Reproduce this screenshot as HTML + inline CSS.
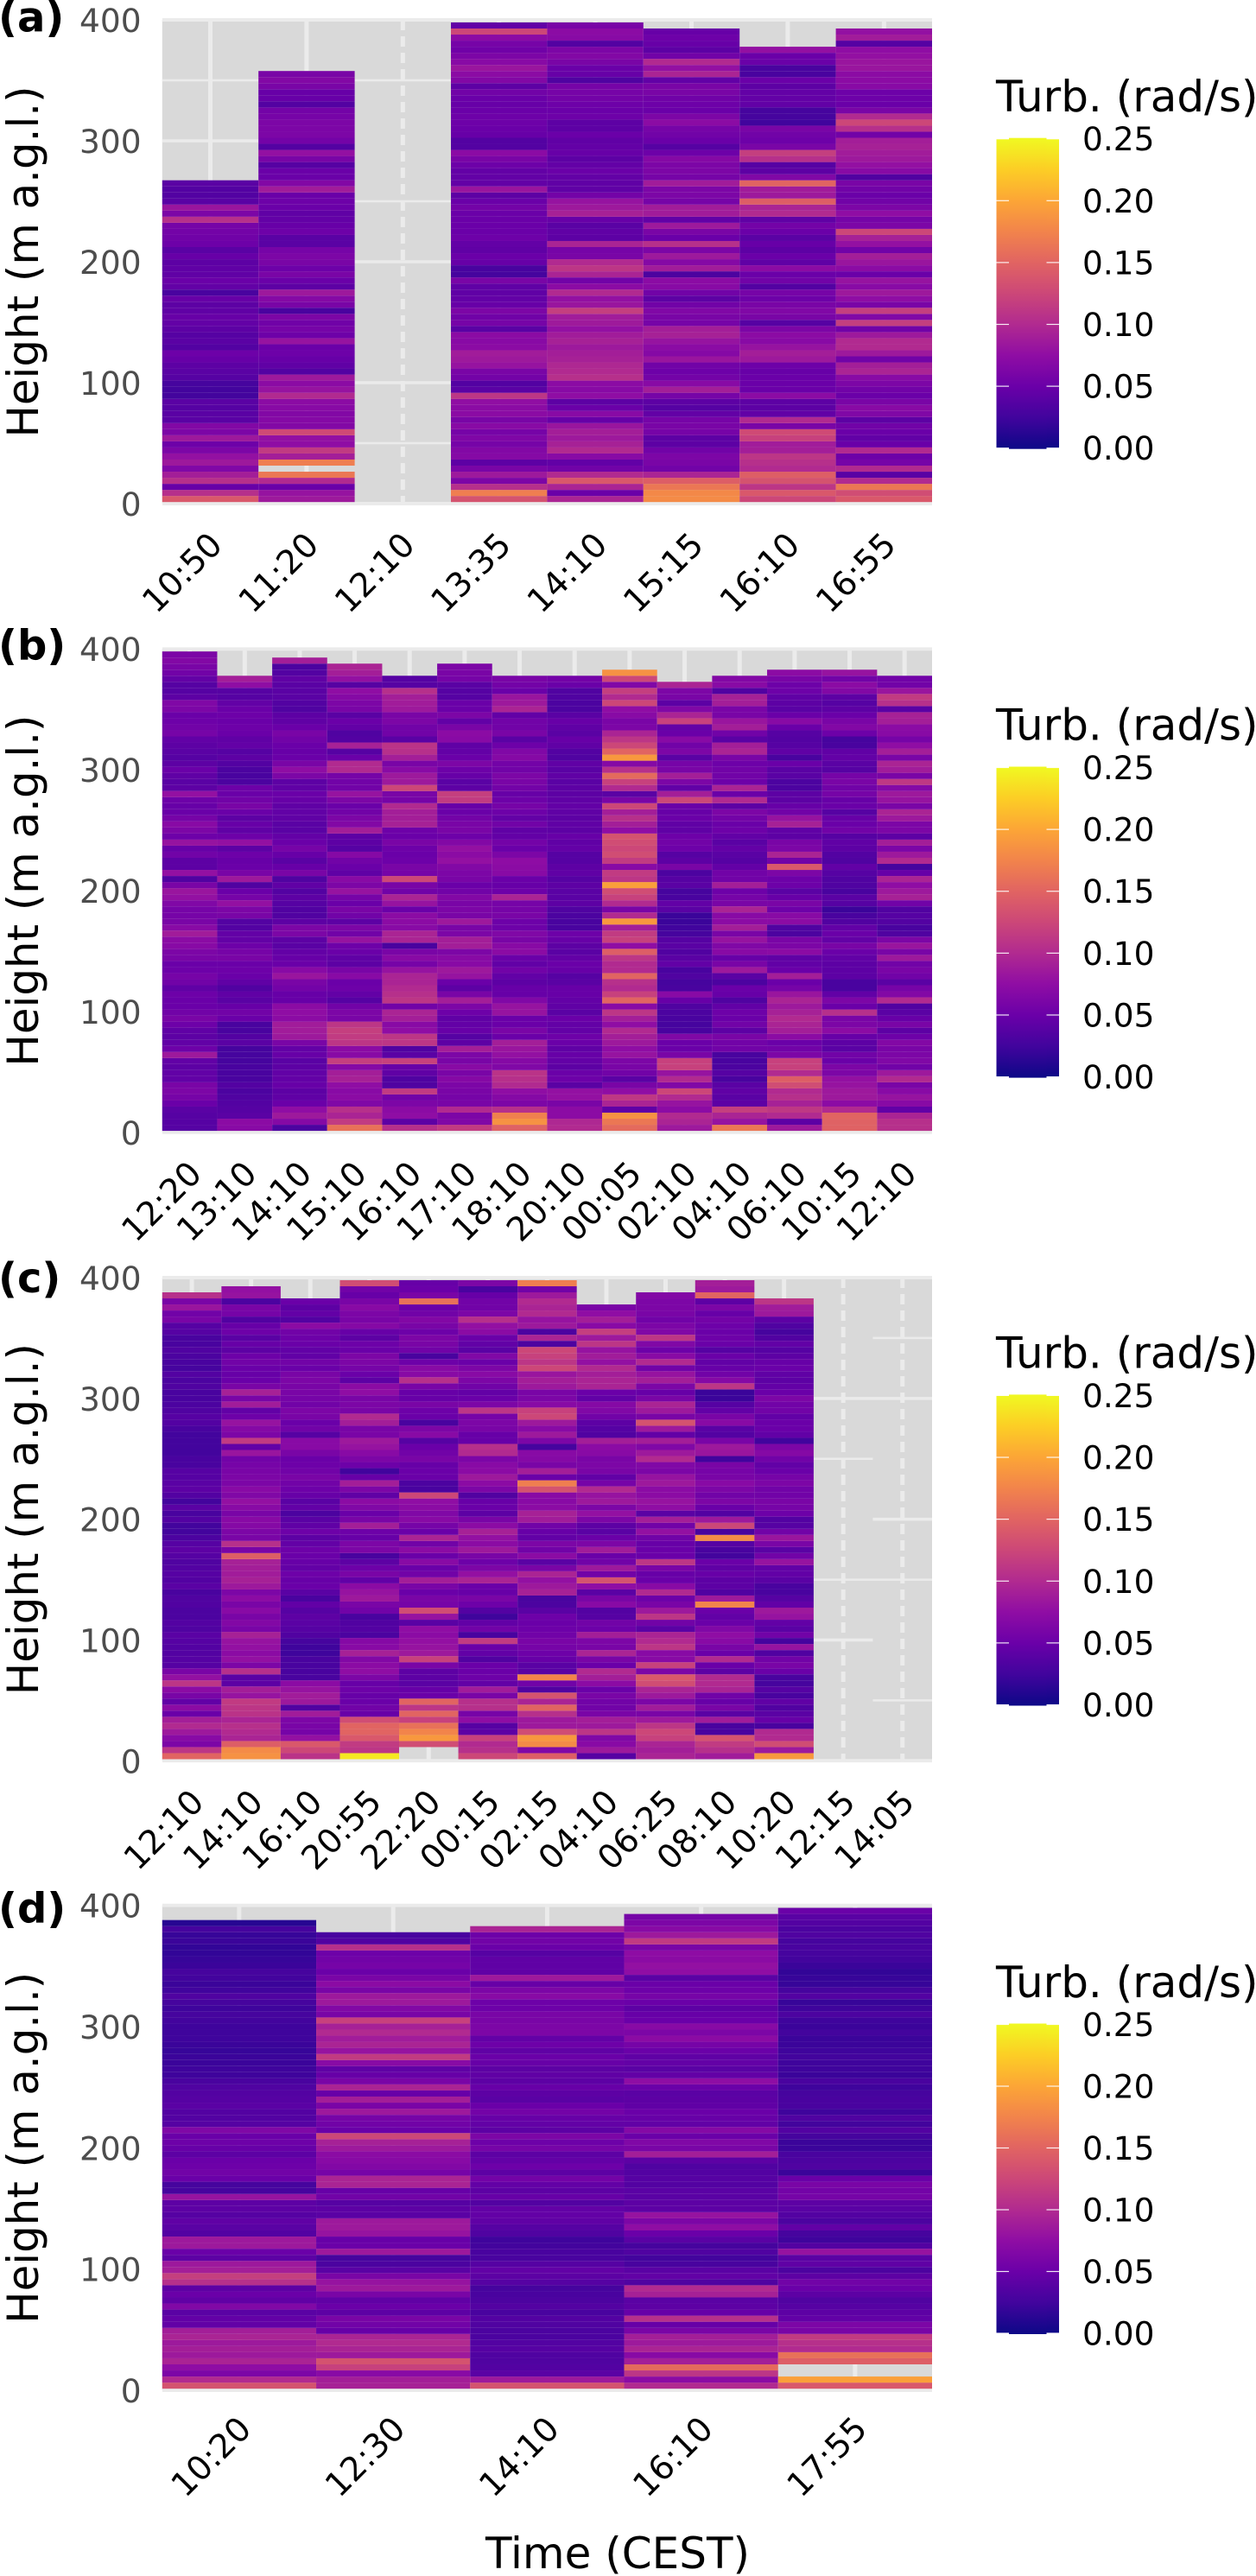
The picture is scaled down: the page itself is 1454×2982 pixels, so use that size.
<!DOCTYPE html>
<html lang="en">
<head>
<meta charset="utf-8">
<title>Turbulence profiles</title>
<style>
html,body{margin:0;padding:0;background:#fff;}
svg{display:block;}
text{font-family:"DejaVu Sans","Liberation Sans",sans-serif;}
</style>
</head>
<body>
<svg id="chart" xmlns="http://www.w3.org/2000/svg" width="1454" height="2982" viewBox="0 0 1454 2982"></svg>
<script>
// Turbulence in thousandths of rad/s, one array per profile, listed bottom row to top row. null = no data.
const timesA = ["10:50","11:20","12:10","13:35","14:10","15:15","16:10","16:55"];
const a1050 = [140,105,48,105,90,65,85,78,62,52,85,62,66,40,40,38,40,26,26,28,38,40,42,48,52,36,40,38,42,46,48,44,42,48,30,46,50,44,44,42,48,40,52,54,56,58,105,62,82,40,36,36,40];
const a1120 = [85,80,50,100,165,null,170,90,115,75,78,128,66,68,66,70,72,100,80,72,85,36,44,48,52,50,80,52,58,54,62,30,60,68,85,42,50,60,52,60,62,58,40,40,52,48,46,44,50,52,50,88,66,50,50,38,60,78,36,56,62,62,62,58,56,36,48,48,60,66,60];
const a1210 = [];
const a1335 = [135,170,105,62,85,60,42,68,66,58,64,58,70,60,72,72,76,110,40,36,56,60,80,85,88,72,70,72,40,58,54,62,48,46,44,44,60,28,30,48,50,44,46,52,50,50,50,50,56,50,42,82,46,46,46,52,60,72,36,36,48,50,52,52,50,48,50,55,42,66,72,82,70,62,54,58,72,125,45];
const a1410 = [95,50,95,140,100,55,45,70,100,92,85,90,82,48,70,50,42,75,70,72,105,100,98,92,90,85,92,88,78,86,88,118,82,78,100,72,55,95,110,100,60,58,95,42,44,40,48,92,85,80,56,44,44,46,50,46,42,48,46,44,50,42,42,52,50,52,56,58,58,34,48,50,60,66,62,36,70,72,60];
const a1515 = [180,178,165,145,95,55,60,62,55,42,42,58,60,58,46,38,42,58,90,70,56,52,55,82,68,72,80,92,90,58,60,65,55,42,55,70,72,32,88,68,85,62,105,50,60,85,45,88,88,58,62,62,88,58,62,62,68,52,38,50,55,58,72,62,50,52,54,60,60,45,95,78,100,55,42,48,52,48];
const a1610 = [125,140,110,135,145,100,105,110,90,88,120,128,60,100,45,42,42,72,50,50,50,48,52,85,90,80,70,72,62,38,60,65,60,52,58,36,55,50,72,44,50,42,48,40,50,56,44,100,95,145,85,88,150,65,42,38,105,118,60,52,55,60,25,28,28,45,46,46,42,50,30,30,50,50,78];
const a1655 = [140,130,165,100,40,100,58,52,100,50,45,50,55,42,65,70,60,50,55,62,70,95,90,55,85,100,100,85,55,118,65,118,60,75,85,70,80,50,72,82,90,55,78,92,125,62,58,75,62,55,50,55,60,35,70,78,85,88,92,90,55,105,125,100,60,50,52,52,70,72,72,82,82,78,75,38,88,78];

const timesB = ["12:20","13:10","14:10","15:10","16:10","17:10","18:10","20:10","00:05","02:10","04:10","06:10","10:15","12:10"];
const b1220 = [38,38,38,40,50,58,62,60,45,45,42,45,85,52,45,42,44,52,60,55,50,50,52,44,55,58,52,50,60,62,70,72,88,70,60,58,58,65,78,82,60,35,78,42,42,55,48,80,52,62,70,58,50,48,52,78,42,40,44,50,42,38,40,42,45,58,55,52,50,62,65,42,38,38,46,55,60,66,62];
const b1310 = [70,72,40,38,36,34,32,36,30,30,30,28,28,28,40,36,30,30,50,55,48,40,44,35,44,50,52,50,60,58,52,46,46,36,36,60,62,78,58,50,34,85,60,50,48,52,42,78,52,44,48,42,50,60,55,50,52,32,30,32,36,42,38,46,44,50,52,50,52,50,46,38,38,75,90];
const b1410 = [32,68,85,75,50,44,42,48,46,45,42,40,48,46,60,85,88,88,72,75,72,48,48,56,60,82,70,50,48,46,40,42,62,62,42,35,35,38,42,36,44,34,60,48,40,48,58,50,46,40,40,44,45,44,48,50,44,42,62,75,60,50,48,50,55,60,50,44,42,34,36,40,40,40,44,36,32,90];
const b1510 = [160,115,95,105,65,72,70,75,92,90,68,118,70,72,110,115,118,110,60,62,55,38,46,52,50,70,60,42,44,50,52,80,55,62,42,55,60,50,58,80,62,70,44,50,55,68,38,42,42,90,66,62,55,50,62,80,55,55,58,100,100,50,38,92,36,34,46,50,40,60,62,68,75,38,78,90,95];
const b1610 = [105,42,75,72,62,55,115,34,34,44,48,120,40,35,110,110,75,70,90,95,55,110,105,100,95,95,80,58,70,60,30,95,95,70,72,72,50,80,95,55,60,125,58,60,52,50,52,60,50,52,92,90,90,100,58,60,125,85,85,70,60,90,105,108,40,55,55,62,60,85,88,90,105,38,38];
const b1710 = [115,65,62,100,60,58,60,62,68,60,70,60,62,90,42,38,48,46,44,52,62,90,60,42,50,80,85,70,70,62,90,90,62,60,85,60,62,60,66,55,50,60,62,66,78,72,78,66,52,60,60,56,50,48,115,118,42,40,48,52,62,50,46,44,70,72,60,45,62,50,50,38,38,40,58,60,62];
const b1810 = [148,185,172,105,62,68,75,100,105,108,65,68,78,82,90,50,60,50,50,80,80,65,48,48,42,45,55,45,50,72,70,60,65,52,52,60,58,58,95,52,48,50,70,72,74,62,50,56,46,44,55,46,52,58,52,48,56,60,62,55,56,68,65,52,40,60,55,55,45,95,85,82,50,56,60];
const b2010 = [100,98,72,72,60,78,78,40,52,50,42,46,48,44,50,52,46,46,50,40,44,46,48,48,40,38,48,50,46,40,42,48,52,30,30,32,34,42,40,40,42,38,44,42,38,38,46,44,48,42,44,42,44,46,44,42,42,40,44,40,44,34,36,44,48,40,44,48,40,32,32,34,34,50,56];
const b0005 = [155,165,185,44,95,112,75,60,40,55,60,62,80,75,85,90,100,75,90,110,70,150,120,100,105,150,100,100,110,145,75,120,115,90,190,100,60,100,120,130,195,110,115,70,115,130,125,130,135,75,90,105,90,125,60,40,100,120,155,105,68,190,150,125,110,95,62,60,70,75,125,100,118,65,125,185];
const b0210 = [85,95,100,72,80,100,125,65,100,80,120,120,60,50,50,65,30,28,30,32,34,48,70,30,28,34,30,45,40,35,40,38,28,25,22,22,40,45,30,28,40,38,32,60,42,38,52,55,52,44,44,50,48,50,125,90,45,62,90,60,58,40,62,55,70,50,46,120,95,65,42,60,62,95];
const b0410 = [165,80,95,118,42,40,44,40,30,38,32,30,30,55,55,60,42,55,50,52,45,34,48,50,32,40,85,60,48,70,65,80,60,90,72,70,95,60,58,52,90,55,55,46,38,40,46,40,45,52,50,56,62,42,100,50,95,52,55,55,52,60,95,90,40,55,90,82,60,60,90,92,35,70,66];
const b0610 = [85,42,100,112,92,105,100,130,145,100,120,120,62,55,50,72,90,95,100,92,85,95,82,58,50,90,50,45,44,72,62,60,32,34,72,70,52,60,48,40,52,52,62,140,55,95,62,60,42,44,92,80,55,48,42,42,32,32,40,40,50,30,44,38,36,38,50,70,50,40,42,44,52,52,60,72];
const b1015 = [148,148,150,100,72,85,85,80,78,62,62,50,55,40,42,48,72,62,60,105,50,62,45,30,30,42,42,42,45,50,60,46,50,45,35,30,22,38,40,30,34,34,38,45,34,36,42,44,38,55,50,48,38,50,48,58,55,60,58,38,40,46,44,30,28,52,66,60,50,42,38,42,66,72,55,80];
const b1210 = [105,105,95,45,70,80,70,60,100,85,55,65,62,60,66,52,42,60,48,40,35,100,66,58,40,55,60,55,85,60,82,62,34,30,36,38,35,55,92,85,75,95,48,28,100,85,62,90,42,62,62,85,95,60,80,85,68,112,60,88,95,60,90,75,58,70,72,90,92,40,105,115,82,55,55];

const timesC = ["12:10","14:10","16:10","20:55","22:20","00:15","02:15","04:10","06:25","08:10","10:20","12:15","14:05"];
const c1210 = [150,110,62,70,85,100,90,50,72,45,60,72,110,78,60,38,38,36,36,38,40,34,36,32,32,35,34,30,40,36,38,36,34,38,42,38,32,26,26,36,30,40,26,36,42,40,38,38,30,30,26,26,26,26,30,36,38,34,32,30,30,34,32,36,28,30,32,34,30,30,38,38,60,55,82,60,105];
const c1410 = [185,180,145,95,100,105,95,108,110,115,80,90,42,40,105,62,78,72,78,80,92,60,66,60,70,60,72,62,85,92,88,90,92,145,60,105,60,62,68,70,60,70,78,65,70,62,62,60,58,55,82,45,115,62,68,80,52,45,88,60,92,60,50,48,50,55,52,42,48,40,52,48,35,58,60,32,80,78];
const c1610 = [108,125,140,78,58,60,62,88,35,85,88,80,72,30,30,30,30,24,24,28,35,38,40,42,38,45,30,40,50,48,52,46,48,50,52,46,42,52,44,40,32,45,40,48,52,55,60,55,52,50,60,70,70,38,55,50,60,62,55,58,60,60,62,60,50,55,45,45,50,52,55,72,36,46,42,50];
const c2055 = [240,110,115,140,150,150,130,48,55,50,48,52,48,62,75,72,66,92,70,68,32,36,35,30,55,60,85,80,72,45,60,52,42,30,62,62,48,52,90,60,50,65,72,44,62,90,48,25,52,62,70,80,85,60,60,90,100,60,62,60,75,72,42,50,58,62,62,50,52,42,48,68,60,62,70,60,48,55,130];
const c2220 = [null,null,130,190,175,160,120,150,110,150,50,48,40,42,42,60,120,85,80,78,72,75,40,80,130,58,60,50,60,90,55,50,70,50,72,55,95,50,58,70,65,72,75,125,30,32,50,50,48,60,55,50,38,70,62,30,50,52,60,48,48,60,105,70,70,52,30,55,60,62,52,60,66,55,50,160,60,50,48];
const c0015 = [125,105,100,120,42,38,75,58,105,105,60,88,45,52,50,50,35,45,50,115,30,55,45,24,36,52,60,48,50,95,78,62,52,60,85,72,78,92,72,60,42,50,48,35,62,72,85,72,70,62,100,105,48,48,60,62,58,110,62,50,46,55,62,70,62,50,65,40,45,50,72,78,105,62,55,55,48,30,62];
const c0215 = [145,65,180,190,130,85,85,105,150,95,135,35,55,175,40,40,48,52,58,60,55,52,50,52,40,32,30,92,85,78,95,60,40,72,55,62,45,48,55,88,92,72,70,70,135,170,50,90,60,68,70,28,62,85,70,85,125,120,70,62,60,85,90,82,125,110,120,125,32,95,32,85,80,100,95,100,85,55,170];
const c0410 = [38,85,70,65,110,85,90,60,55,55,60,50,72,90,100,50,60,95,60,62,90,52,55,38,36,70,60,40,75,135,55,85,55,50,88,62,50,40,42,62,78,62,85,80,100,58,45,60,62,60,70,72,90,35,38,42,55,65,68,45,50,95,95,90,100,78,88,80,110,85,118,70,90,75,60];
const c0625 = [95,90,95,120,125,110,85,60,88,62,85,95,130,140,62,120,70,70,110,100,95,40,55,110,85,60,52,100,70,50,48,60,110,50,50,48,55,78,55,90,40,75,80,72,72,85,80,62,65,100,85,65,90,45,85,135,60,85,95,60,48,62,90,80,55,100,70,52,65,110,65,62,55,60,62,62,66];
const c0810 = [88,105,115,135,30,30,88,40,60,48,55,95,100,100,42,50,100,50,60,70,75,65,50,45,50,175,85,35,42,42,48,44,50,26,30,38,180,30,125,85,36,50,62,55,62,70,60,58,60,25,82,85,60,36,40,70,60,45,38,22,22,110,68,55,48,45,50,38,50,52,50,52,56,48,62,42,150,85,90];
const c1020 = [190,85,130,100,100,30,48,40,35,44,30,38,28,30,50,60,55,35,80,28,55,40,45,80,85,45,38,30,30,40,45,45,80,55,40,60,82,55,38,36,52,58,60,55,55,62,58,50,45,55,68,62,25,45,50,50,45,55,55,62,50,46,42,44,50,48,42,38,45,35,28,34,42,85,88,110];
const c1215 = [];
const c1405 = [];

const timesD = ["10:20","12:30","14:10","16:10","17:55"];
const d1020 = [135,100,62,75,95,85,90,85,95,90,45,46,40,65,44,50,42,105,118,90,85,42,50,85,85,36,40,44,38,42,42,80,28,28,50,55,52,50,42,48,52,50,65,38,36,36,40,38,36,34,30,24,24,22,22,20,22,24,24,24,26,28,24,28,34,25,22,26,28,22,20,18,18,22,20,28,12];
const d1230 = [92,90,70,120,135,85,95,100,95,48,55,60,42,50,44,60,85,80,60,40,32,28,85,50,48,80,85,85,40,42,38,55,48,95,95,58,66,70,72,85,92,125,50,55,58,85,60,90,48,95,60,48,44,70,115,80,95,88,100,92,120,60,66,85,85,60,72,60,50,58,55,52,105,35,30];
const d1410 = [135,85,40,36,34,34,38,36,32,32,34,36,30,36,32,30,28,38,42,45,38,30,30,26,24,34,38,44,46,46,36,48,42,46,56,42,52,46,42,58,52,62,42,46,48,56,50,40,42,48,42,44,42,48,50,44,52,46,62,62,60,60,52,52,70,62,48,85,44,44,44,38,50,55,52,95];
const d1610 = [100,72,110,155,90,70,95,85,90,60,48,105,48,42,40,92,100,34,45,40,30,26,34,28,40,50,75,62,80,42,42,40,40,36,38,36,34,42,90,60,65,50,68,45,48,50,44,42,40,50,75,46,40,46,44,50,58,72,62,70,50,48,42,50,58,52,50,40,75,78,72,74,60,115,85,70,62,58];
const d1755 = [140,195,null,null,145,160,100,105,115,60,62,45,42,38,34,42,50,55,42,32,44,40,80,36,24,28,45,32,36,40,42,58,56,60,50,22,34,32,30,22,22,28,36,26,34,24,30,30,28,24,30,22,24,24,26,24,22,22,26,22,24,32,24,20,36,28,20,20,18,22,26,28,30,28,34,32,36,40,50];

// Axis ticks and legend breaks
const yTicks = [0,100,200,300,400];
const legendTicks = [0,0.05,0.10,0.15,0.20,0.25];
// Visible grid segments: [height, first column, column after last]
const gridA = [[350,0,3],[300,0,1],[250,2,3],[200,2,3],[100,2,3],[50,2,3]];
const gridB = [];
const gridC = [[350,12,13],[300,11,13],[250,11,12],[200,12,13],[150,11,13],[100,11,12],[50,12,13]];
const gridD = [];

const panelA = {tag:"(a)",key:"a",times:timesA,cols:[a1050,a1120,a1210,a1335,a1410,a1515,a1610,a1655],grid:gridA};
const panelB = {tag:"(b)",key:"b",times:timesB,cols:[b1220,b1310,b1410,b1510,b1610,b1710,b1810,b2010,b0005,b0210,b0410,b0610,b1015,b1210],grid:gridB};
const panelC = {tag:"(c)",key:"c",times:timesC,cols:[c1210,c1410,c1610,c2055,c2220,c0015,c0215,c0410,c0625,c0810,c1020,c1215,c1405],grid:gridC};
const panelD = {tag:"(d)",key:"d",times:timesD,cols:[d1020,d1230,d1410,d1610,d1755],grid:gridD};

const plasma = [[13,8,135],[65,4,157],[106,0,168],[143,13,164],[177,42,144],[204,71,120],[225,100,98],[242,132,75],[252,166,54],[252,206,37],[240,249,33]];
const NS = "http://www.w3.org/2000/svg";
const svg = document.getElementById("chart");
const LEFT = 187.8, RIGHT = 1079;
const ROW_STEP = 5.02, ROW_BASE = 1.3, MAX_TURB = 0.25;

function make(tag, parent, attrs){
  const el = document.createElementNS(NS, tag);
  for (const k in attrs) el.setAttribute(k, attrs[k]);
  parent.appendChild(el);
  return el;
}
function turbColor(v){
  const t = Math.max(0, Math.min(1, v / MAX_TURB)) * (plasma.length - 1);
  const i = Math.min(plasma.length - 2, Math.floor(t));
  const f = t - i;
  const c = [0,1,2].map(n => Math.round(plasma[i][n] + (plasma[i+1][n] - plasma[i][n]) * f));
  return "rgb(" + c.join(",") + ")";
}

const defs = make("defs", svg, {});
const grad = make("linearGradient", defs, {id:"plasma-grad",x1:0,y1:1,x2:0,y2:0});
plasma.forEach((c, i) => {
  make("stop", grad, {offset:(i/(plasma.length-1)), "stop-color":"rgb(" + c.join(",") + ")"});
});

function drawPanel(p, L){
  const g = make("g", svg, {});
  
  

  const n = p.cols.length;
  const band = (RIGHT - LEFT) / n;
  const xScale = i => LEFT + band * i;
  const yScale = h => L.bottom - (h / 400) * (L.bottom - L.top);

  const clipId = "clip-" + p.key;
  const clip = make("clipPath", defs, {id:clipId});
  make("rect", clip, {x:LEFT, y:L.top - 2, width:RIGHT - LEFT, height:L.bottom - L.top + 4});

  const bg = make("rect", g, {x:LEFT, y:L.top, width:RIGHT - LEFT, height:L.bottom - L.top, fill:"#d9d9d9"});
  
  

  const gridG = make("g", g, {"clip-path":"url(#" + clipId + ")", stroke:"#ebebeb", fill:"none"});
  
  
  p.cols.forEach((col, i) => {
    const cx = xScale(i) + band / 2;
    const v = make("line", gridG, {x1:cx, x2:cx, y1:L.top, y2:L.bottom, "stroke-width":5});
    if (col.length === 0) v.setAttribute("stroke-dasharray", "12 7");
    
    
  });
  p.grid.forEach(s => {
    const ln = make("line", gridG, {x1:xScale(s[1]), x2:xScale(s[2]), y1:yScale(s[0]), y2:yScale(s[0]), "stroke-width":s[0] % 100 === 0 ? 3.5 : 2.5});
    
    
  });
  [0,400].forEach(h => {
    const ln = make("line", gridG, {x1:LEFT, x2:RIGHT, y1:yScale(h), y2:yScale(h), "stroke-width":4});
    
    
  });

  p.cols.forEach((col, i) => {
    const cg = make("g", g, {});
    
    
    col.forEach((val, k) => {
      if (val === null) return;
      const y0 = yScale(ROW_BASE + ROW_STEP * k);
      const y1 = yScale(ROW_BASE + ROW_STEP * (k + 1));
      const r = make("rect", cg, {x:xScale(i), y:y1, width:band, height:y0 - y1, fill:turbColor(val / 1000)});
      
      
    });
  });

  yTicks.forEach(t => {
    const txt = make("text", g, {x:163.6, y:yScale(t) + 14, "text-anchor":"end", "font-size":37.5, fill:"#4d4d4d"});
    txt.textContent = String(t);
    
    
  });

  p.times.forEach((label, i) => {
    const ax = xScale(i) + band / 2 + 16;
    const ay = L.bottom + L.xLabelDy;
    const txt = make("text", g, {x:ax, y:ay, "text-anchor":"end", "font-size":38.5, fill:"#000", transform:"rotate(-45 " + ax + " " + ay + ")"});
    txt.textContent = label;
    
    
  });

  const midY = (L.top + L.bottom) / 2;
  const yTitle = make("text", g, {x:44, y:midY, "text-anchor":"middle", "font-size":49.8, fill:"#000", transform:"rotate(-90 44 " + midY + ")"});
  yTitle.textContent = "Height (m a.g.l.)";
  
  

  const tag = make("text", g, {x:-2, y:L.tagY, "font-size":48, "font-weight":"bold", fill:"#000"});
  tag.textContent = p.tag;
  
  

  // Legend
  const lg = make("g", g, {});
  
  
  const lt = make("text", lg, {x:1153, y:L.legendTitleY, "font-size":50, fill:"#000"});
  lt.textContent = "Turb. (rad/s)";
  
  
  const BX0 = 1153.5, BX1 = 1226, TICK = 14.5;
  const barY = v => L.bar0 - (v / MAX_TURB) * (L.bar0 - L.bar1);
  const bar = make("rect", lg, {x:BX0, y:L.bar1, width:BX1 - BX0, height:L.bar0 - L.bar1, fill:"url(#plasma-grad)"});
  
  
  const barMid = make("rect", lg, {x:BX0 + TICK, y:L.bar1 - 1, width:BX1 - BX0 - 2 * TICK, height:L.bar0 - L.bar1 + 2, fill:"url(#plasma-grad)"});
  
  
  legendTicks.forEach(t => {
    const y = barY(t);
    [[BX0, BX0 + TICK],[BX1 - TICK, BX1]].forEach(seg => {
      const m = make("line", lg, {x1:seg[0], x2:seg[1], y1:y, y2:y, stroke:"#fff", "stroke-width":1.2, opacity:0.9});
      
      
    });
    const txt = make("text", lg, {x:1253, y:y + 13.5, "font-size":37.5, fill:"#000"});
    txt.textContent = t.toFixed(2);
    
    
  });
}

drawPanel(panelA, {top:23, bottom:583, tagY:36.7, legendTitleY:129, bar0:518.7, bar1:160.7, xLabelDy:50});
drawPanel(panelB, {top:751.2, bottom:1310.9, tagY:763.6, legendTitleY:856.4, bar0:1246.6, bar1:888.5, xLabelDy:50});
drawPanel(panelC, {top:1479, bottom:2038.3, tagY:1496, legendTitleY:1583.7, bar0:1973.5, bar1:1615.4, xLabelDy:50});
drawPanel(panelD, {top:2205.6, bottom:2767, tagY:2225.5, legendTitleY:2312, bar0:2701, bar1:2343.5, xLabelDy:47});

const xTitle = make("text", svg, {x:715, y:2973, "text-anchor":"middle", "font-size":50, fill:"#000"});
xTitle.textContent = "Time (CEST)";


</script>
</body>
</html>
